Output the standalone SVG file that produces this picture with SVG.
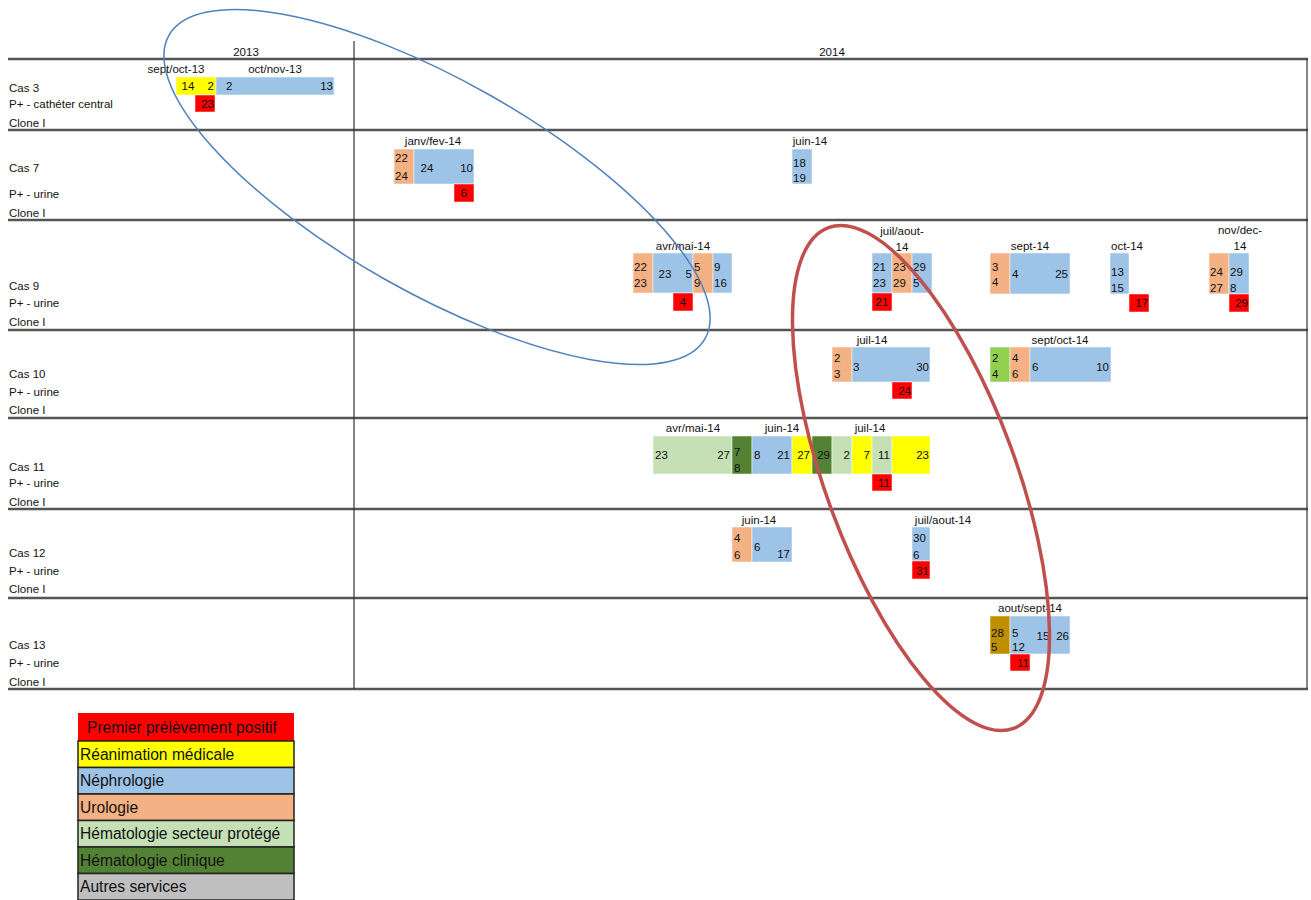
<svg xmlns="http://www.w3.org/2000/svg" width="1311" height="900" viewBox="0 0 1311 900">
<style>
text{font-family:"Liberation Sans",Arial,sans-serif;font-size:11.5px;fill:#111}
.m{text-anchor:middle}
.e{text-anchor:end}
.lg-t{font-size:15.6px}
.y{fill:#ffff00}
.b{fill:#9dc3e6}
.o{fill:#f4b183}
.l{fill:#c5e0b4}
.d{fill:#548235}
.g{fill:#bfbfbf}
.r{fill:#ff0000}
.au{fill:#bf8f00}
.gr{fill:#92d050}
.cell rect{stroke:#ffffff;stroke-width:0.5}
.grid line{stroke:#555;stroke-width:2.5}
.vl{stroke:#333;stroke-width:1.2}
.leg rect{stroke:#222;stroke-width:1.5}
</style>
<rect width="1311" height="900" fill="#ffffff"/>
<g id="grid" class="grid">
<line x1="8" y1="59" x2="1308" y2="59"/>
<line x1="8" y1="130" x2="1308" y2="130"/>
<line x1="8" y1="220" x2="1308" y2="220"/>
<line x1="8" y1="330" x2="1308" y2="330"/>
<line x1="8" y1="418" x2="1308" y2="418"/>
<line x1="8" y1="509" x2="1308" y2="509"/>
<line x1="8" y1="598" x2="1308" y2="598"/>
<line x1="8" y1="689" x2="1308" y2="689"/>
</g>
<line class="vl" x1="354" y1="41" x2="354" y2="689"/>
<line class="vl" x1="1307" y1="59" x2="1307" y2="689"/>
<g id="header">
<text class="m" x="246" y="56">2013</text>
<text class="m" x="832" y="56">2014</text>
</g>
<g id="cas3" class="cell">
<text x="9" y="92">Cas 3</text>
<text x="9" y="108">P+ - cathéter central</text>
<text x="9" y="127">Clone I</text>
<text class="m" x="176" y="73">sept/oct-13</text>
<text class="m" x="275" y="73">oct/nov-13</text>
<rect class="y" x="176" y="77" width="40" height="18"/>
<rect class="b" x="216" y="77" width="118" height="18"/>
<rect class="r" x="195" y="95" width="20" height="17"/>
<text class="m" x="188" y="90">14</text>
<text class="e" x="214" y="90">2</text>
<text x="226" y="90">2</text>
<text class="e" x="333" y="90">13</text>
<text class="e" x="214" y="108">23</text>
</g>
<g id="cas7" class="cell">
<text x="9" y="172">Cas 7</text>
<text x="9" y="198">P+ - urine</text>
<text x="9" y="217">Clone I</text>
<text class="m" x="433" y="145">janv/fev-14</text>
<rect class="o" x="394" y="149" width="20" height="35"/>
<rect class="b" x="414" y="149" width="60" height="35"/>
<rect class="r" x="454" y="184" width="20" height="18"/>
<text x="395" y="162">22</text>
<text x="395" y="180">24</text>
<text class="m" x="427" y="172">24</text>
<text class="e" x="473" y="172">10</text>
<text class="m" x="464" y="197">6</text>
<text class="m" x="810" y="145">juin-14</text>
<rect class="b" x="792" y="149" width="20" height="35"/>
<text x="793" y="167">18</text>
<text x="793" y="182">19</text>
</g>
<g id="cas9" class="cell">
<text x="9" y="290">Cas 9</text>
<text x="9" y="307">P+ - urine</text>
<text x="9" y="326">Clone I</text>
<text class="m" x="683" y="250">avr/mai-14</text>
<rect class="o" x="633" y="253" width="20" height="40"/>
<rect class="b" x="653" y="253" width="40" height="40"/>
<rect class="o" x="693" y="253" width="20" height="40"/>
<rect class="b" x="713" y="253" width="19" height="40"/>
<rect class="r" x="673" y="293" width="20" height="18"/>
<text x="634" y="271">22</text>
<text x="634" y="287">23</text>
<text class="m" x="665" y="278">23</text>
<text class="e" x="692" y="278">5</text>
<text x="694" y="271">5</text>
<text x="694" y="287">9</text>
<text x="714" y="271">9</text>
<text x="714" y="287">16</text>
<text class="m" x="683" y="306">4</text>
<text class="m" x="902" y="235">juil/aout-</text>
<text class="m" x="902" y="251">14</text>
<rect class="b" x="872" y="253" width="20" height="40"/>
<rect class="o" x="892" y="253" width="20" height="40"/>
<rect class="b" x="912" y="253" width="20" height="40"/>
<rect class="r" x="872" y="293" width="20" height="18"/>
<text x="873" y="271">21</text>
<text x="873" y="287">23</text>
<text x="893" y="271">23</text>
<text x="893" y="287">29</text>
<text x="913" y="271">29</text>
<text x="913" y="287">5</text>
<text class="m" x="882" y="306">21</text>
<text class="m" x="1030" y="250">sept-14</text>
<rect class="o" x="990" y="253" width="20" height="41"/>
<rect class="b" x="1010" y="253" width="60" height="41"/>
<text x="992" y="271">3</text>
<text x="992" y="286">4</text>
<text x="1012" y="278">4</text>
<text class="e" x="1068" y="278">25</text>
<text class="m" x="1127" y="250">oct-14</text>
<rect class="b" x="1110" y="253" width="19" height="41"/>
<rect class="r" x="1129" y="294" width="20" height="18"/>
<text x="1111" y="276">13</text>
<text x="1111" y="292">15</text>
<text class="e" x="1148" y="307">17</text>
<text class="m" x="1240" y="234">nov/dec-</text>
<text class="m" x="1240" y="250">14</text>
<rect class="o" x="1209" y="253" width="20" height="41"/>
<rect class="b" x="1229" y="253" width="20" height="41"/>
<rect class="r" x="1229" y="294" width="20" height="18"/>
<text x="1210" y="276">24</text>
<text x="1210" y="292">27</text>
<text x="1230" y="276">29</text>
<text x="1230" y="292">8</text>
<text class="e" x="1248" y="307">29</text>
</g>
<g id="cas10" class="cell">
<text x="9" y="378">Cas 10</text>
<text x="9" y="396">P+ - urine</text>
<text x="9" y="414">Clone I</text>
<text class="m" x="872" y="344">juil-14</text>
<rect class="o" x="832" y="347" width="20" height="35"/>
<rect class="b" x="852" y="347" width="78" height="35"/>
<rect class="r" x="892" y="382" width="20" height="17"/>
<text x="834" y="362">2</text>
<text x="834" y="378">3</text>
<text x="853" y="371">3</text>
<text class="e" x="929" y="371">30</text>
<text class="e" x="911" y="395">24</text>
<text class="m" x="1060" y="344">sept/oct-14</text>
<rect class="gr" x="990" y="347" width="20" height="35"/>
<rect class="o" x="1010" y="347" width="20" height="35"/>
<rect class="b" x="1030" y="347" width="81" height="35"/>
<text x="992" y="362">2</text>
<text x="992" y="378">4</text>
<text x="1012" y="362">4</text>
<text x="1012" y="378">6</text>
<text x="1032" y="371">6</text>
<text class="e" x="1109" y="371">10</text>
</g>
<g id="cas11" class="cell">
<text x="9" y="471">Cas 11</text>
<text x="9" y="487">P+ - urine</text>
<text x="9" y="506">Clone I</text>
<text class="m" x="693" y="432">avr/mai-14</text>
<text class="m" x="782" y="432">juin-14</text>
<text class="m" x="870" y="432">juil-14</text>
<rect class="l" x="653" y="436" width="79" height="38"/>
<rect class="d" x="732" y="436" width="20" height="38"/>
<rect class="b" x="752" y="436" width="40" height="38"/>
<rect class="y" x="792" y="436" width="20" height="38"/>
<rect class="d" x="812" y="436" width="20" height="38"/>
<rect class="l" x="832" y="436" width="20" height="38"/>
<rect class="y" x="852" y="436" width="20" height="38"/>
<rect class="l" x="872" y="436" width="20" height="38"/>
<rect class="y" x="892" y="436" width="38" height="38"/>
<rect class="r" x="872" y="474" width="20" height="17"/>
<text x="655" y="459">23</text>
<text class="e" x="730" y="459">27</text>
<text x="734" y="456">7</text>
<text x="734" y="472">8</text>
<text x="754" y="459">8</text>
<text class="e" x="790" y="459">21</text>
<text class="e" x="810" y="459">27</text>
<text class="e" x="830" y="459">29</text>
<text class="e" x="850" y="459">2</text>
<text class="e" x="870" y="459">7</text>
<text class="e" x="890" y="459">11</text>
<text class="e" x="929" y="459">23</text>
<text class="e" x="890" y="487">11</text>
</g>
<g id="cas12" class="cell">
<text x="9" y="557">Cas 12</text>
<text x="9" y="575">P+ - urine</text>
<text x="9" y="593">Clone I</text>
<text class="m" x="759" y="524">juin-14</text>
<rect class="o" x="732" y="527" width="20" height="35"/>
<rect class="b" x="752" y="527" width="40" height="35"/>
<text x="734" y="542">4</text>
<text x="734" y="559">6</text>
<text x="754" y="551">6</text>
<text class="e" x="790" y="558">17</text>
<text class="m" x="943" y="524">juil/aout-14</text>
<rect class="b" x="912" y="527" width="18" height="34"/>
<rect class="r" x="912" y="561" width="18" height="18"/>
<text x="913" y="542">30</text>
<text x="913" y="559">6</text>
<text class="e" x="929" y="575">31</text>
</g>
<g id="cas13" class="cell">
<text x="9" y="649">Cas 13</text>
<text x="9" y="667">P+ - urine</text>
<text x="9" y="686">Clone I</text>
<text class="m" x="1030" y="612">aout/sept-14</text>
<rect class="au" x="990" y="616" width="20" height="38"/>
<rect class="b" x="1010" y="616" width="60" height="38"/>
<rect class="r" x="1010" y="654" width="20" height="17"/>
<text x="991" y="637">28</text>
<text x="991" y="651">5</text>
<text x="1012" y="637">5</text>
<text x="1012" y="651">12</text>
<text class="m" x="1043" y="640">15</text>
<text class="e" x="1069" y="640">26</text>
<text class="e" x="1029" y="667">11</text>
</g>
<g id="annotations" fill="none">
<ellipse cx="437" cy="187" rx="308" ry="106" transform="rotate(29.5 437 187)" stroke="#4f81bd" stroke-width="1.5"/>
<ellipse cx="921" cy="478" rx="267" ry="95" transform="rotate(69.7 921 478)" stroke="#c0504d" stroke-width="3.5"/>
</g>
<g id="legend" class="leg">
<rect class="r" x="78" y="713" width="216" height="28" style="stroke:none"/>
<text class="lg-t" x="87" y="733">Premier prélèvement positif</text>
<rect class="y" x="78" y="741" width="216" height="26.5"/>
<text class="lg-t" x="80" y="759.5">Réanimation médicale</text>
<rect class="b" x="78" y="767.5" width="216" height="26.5"/>
<text class="lg-t" x="80" y="786">Néphrologie</text>
<rect class="o" x="78" y="794" width="216" height="26.5"/>
<text class="lg-t" x="80" y="812.5">Urologie</text>
<rect class="l" x="78" y="820.5" width="216" height="26.5"/>
<text class="lg-t" x="80" y="839">Hématologie secteur protégé</text>
<rect class="d" x="78" y="847" width="216" height="26.5"/>
<text class="lg-t" x="80" y="865.5">Hématologie clinique</text>
<rect class="g" x="78" y="873.5" width="216" height="26.5"/>
<text class="lg-t" x="80" y="892">Autres services</text>
</g>
</svg>
